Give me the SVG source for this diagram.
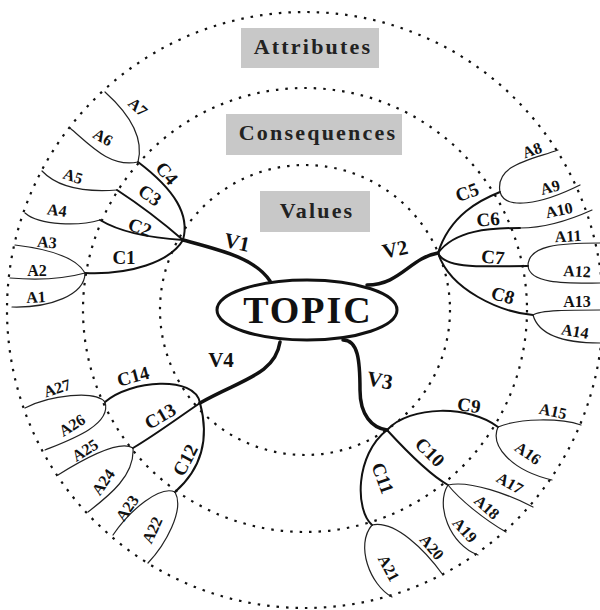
<svg xmlns="http://www.w3.org/2000/svg" width="600" height="610" viewBox="0 0 600 610">
<style>
.ring{fill:none;stroke:#111;stroke-width:2.2;stroke-dasharray:2.5 7}
.box{fill:#c8c8c8}
.hdr{font-family:"Liberation Serif",serif;font-weight:bold;font-size:22px;fill:#222;text-anchor:middle;letter-spacing:2.2px}
.v{fill:none;stroke:#111;stroke-width:3.5;stroke-linecap:round}
.c{fill:none;stroke:#111;stroke-width:2;stroke-linecap:round}
.a{fill:none;stroke:#222;stroke-width:1.2;stroke-linecap:round}
.lv{font-family:"Liberation Serif",serif;font-weight:bold;font-size:21px;fill:#111;text-anchor:middle}
.lc{font-family:"Liberation Serif",serif;font-weight:bold;font-size:19px;fill:#111;text-anchor:middle}
.la{font-family:"Liberation Serif",serif;font-weight:bold;font-size:16px;fill:#111;text-anchor:middle}
</style>
<rect width="600" height="610" fill="#fff"/>
<g id="rings">
<circle class="ring" cx="305" cy="310" r="298"/>
<circle class="ring" cx="305" cy="310" r="222"/>
<circle class="ring" cx="305" cy="310" r="145"/>
</g>
<g id="level-attributes"><rect class="box" x="241" y="28" width="138" height="40"/><text class="hdr" x="313" y="54">Attributes</text></g>
<g id="level-consequences"><rect class="box" x="226" y="114" width="176" height="41"/><text class="hdr" x="318" y="140">Consequences</text></g>
<g id="level-values"><rect class="box" x="260" y="191" width="110" height="41"/><text class="hdr" x="317" y="218">Values</text></g>
<g id="connectors">
<path class="v" d="M270,281 C255,258 220,250 183,240"/>
<path class="v" d="M367,285 C400,285 410,258 438,253"/>
<path class="v" d="M343,340 C358,340 360,360 360,390 C360,415 372,428 387,430"/>
<path class="v" d="M280,342 C275,375 240,380 200,403"/>
<path class="c" d="M183,240 C170,262 130,275 85,273"/>
<path class="c" d="M183,240 C150,238 120,232 100,220"/>
<path class="c" d="M183,240 C160,220 140,205 117,190"/>
<path class="c" d="M183,240 C190,215 175,190 138,162"/>
<path class="a" d="M85,273 C85,295 50,308 12,307"/>
<path class="a" d="M85,273 C60,280 35,280 10,278"/>
<path class="a" d="M85,273 C75,255 40,248 15,245"/>
<path class="a" d="M100,220 C80,226 40,226 25,213"/>
<path class="a" d="M117,190 C90,192 60,190 42,171"/>
<path class="a" d="M138,162 C110,168 90,145 70,128"/>
<path class="a" d="M138,162 C145,135 125,110 105,92"/>
<path class="c" d="M438,253 C450,215 480,200 500,192"/>
<path class="c" d="M438,253 C455,230 490,228 520,228"/>
<path class="c" d="M438,253 C445,270 490,266 528,266"/>
<path class="c" d="M438,253 C450,290 500,312 533,315"/>
<path class="a" d="M500,192 C495,165 530,160 558,150"/>
<path class="a" d="M500,192 C505,210 540,205 580,185"/>
<path class="a" d="M520,228 C545,228 570,220 592,210"/>
<path class="a" d="M528,266 C528,245 560,243 600,243"/>
<path class="a" d="M528,266 C530,285 570,283 600,283"/>
<path class="a" d="M533,315 C540,310 570,310 600,310"/>
<path class="a" d="M533,315 C540,340 575,343 600,343"/>
<path class="c" d="M387,430 C410,405 470,405 498,427"/>
<path class="c" d="M387,430 C410,455 430,475 448,485"/>
<path class="c" d="M387,430 C355,455 355,510 372,525"/>
<path class="a" d="M498,427 C520,418 560,418 581,425"/>
<path class="a" d="M498,427 C490,445 510,470 552,480"/>
<path class="a" d="M448,485 C470,480 510,495 533,507"/>
<path class="a" d="M448,485 C460,500 485,520 506,532"/>
<path class="a" d="M448,485 C435,505 450,545 478,555"/>
<path class="a" d="M372,525 C395,520 425,550 443,575"/>
<path class="a" d="M372,525 C355,545 370,585 392,597"/>
<path class="c" d="M200,403 C195,375 130,380 105,402"/>
<path class="c" d="M200,403 C175,420 155,435 133,448"/>
<path class="c" d="M200,403 C210,440 200,470 175,492"/>
<path class="a" d="M105,402 C95,390 50,395 25,408"/>
<path class="a" d="M105,402 C112,425 70,440 45,450"/>
<path class="a" d="M133,448 C120,440 90,455 58,475"/>
<path class="a" d="M133,448 C135,475 110,495 88,512"/>
<path class="a" d="M175,492 C160,485 130,510 113,535"/>
<path class="a" d="M175,492 C185,510 165,545 148,563"/>
</g>
<g id="topic"><ellipse cx="307" cy="310" rx="90" ry="30" fill="#fff" stroke="#111" stroke-width="3"/><text x="308" y="323" font-family="'Liberation Serif',serif" font-weight="bold" font-size="38" text-anchor="middle" fill="#111" letter-spacing="2">TOPIC</text></g>
<g id="labels-v">
<text class="lv" transform="translate(237,242) rotate(12)" dy="0.35em">V1</text>
<text class="lv" transform="translate(395,249) rotate(-12)" dy="0.35em">V2</text>
<text class="lv" transform="translate(380,380) rotate(10)" dy="0.35em">V3</text>
<text class="lv" transform="translate(221,360)" dy="0.35em">V4</text>
</g>
<g id="labels-c">
<text class="lc" transform="translate(124,257)" dy="0.35em">C1</text>
<text class="lc" transform="translate(140,227) rotate(20)" dy="0.35em">C2</text>
<text class="lc" transform="translate(150,195) rotate(35)" dy="0.35em">C3</text>
<text class="lc" transform="translate(167,173) rotate(50)" dy="0.35em">C4</text>
<text class="lc" transform="translate(467,192) rotate(-20)" dy="0.35em">C5</text>
<text class="lc" transform="translate(488,219) rotate(-5)" dy="0.35em">C6</text>
<text class="lc" transform="translate(493,257) rotate(5)" dy="0.35em">C7</text>
<text class="lc" transform="translate(503,295) rotate(15)" dy="0.35em">C8</text>
<text class="lc" transform="translate(469,405) rotate(8)" dy="0.35em">C9</text>
<text class="lc" transform="translate(430,452) rotate(45)" dy="0.35em">C10</text>
<text class="lc" transform="translate(383,478) rotate(70)" dy="0.35em">C11</text>
<text class="lc" transform="translate(185,460) rotate(-62)" dy="0.35em">C12</text>
<text class="lc" transform="translate(160,416) rotate(-30)" dy="0.35em">C13</text>
<text class="lc" transform="translate(133,376) rotate(-15)" dy="0.35em">C14</text>
</g>
<g id="labels-a">
<text class="la" transform="translate(36,297) rotate(-3)" dy="0.35em">A1</text>
<text class="la" transform="translate(37,270)" dy="0.35em">A2</text>
<text class="la" transform="translate(47,242) rotate(5)" dy="0.35em">A3</text>
<text class="la" transform="translate(57,210) rotate(8)" dy="0.35em">A4</text>
<text class="la" transform="translate(73,176) rotate(18)" dy="0.35em">A5</text>
<text class="la" transform="translate(103,137) rotate(30)" dy="0.35em">A6</text>
<text class="la" transform="translate(138,107) rotate(42)" dy="0.35em">A7</text>
<text class="la" transform="translate(532,150) rotate(-20)" dy="0.35em">A8</text>
<text class="la" transform="translate(550,187) rotate(-15)" dy="0.35em">A9</text>
<text class="la" transform="translate(559,210) rotate(-12)" dy="0.35em">A10</text>
<text class="la" transform="translate(568,236) rotate(-3)" dy="0.35em">A11</text>
<text class="la" transform="translate(577,271) rotate(3)" dy="0.35em">A12</text>
<text class="la" transform="translate(577,301)" dy="0.35em">A13</text>
<text class="la" transform="translate(575,331) rotate(10)" dy="0.35em">A14</text>
<text class="la" transform="translate(553,411) rotate(12)" dy="0.35em">A15</text>
<text class="la" transform="translate(528,453) rotate(35)" dy="0.35em">A16</text>
<text class="la" transform="translate(510,483) rotate(30)" dy="0.35em">A17</text>
<text class="la" transform="translate(487,507) rotate(42)" dy="0.35em">A18</text>
<text class="la" transform="translate(465,530) rotate(48)" dy="0.35em">A19</text>
<text class="la" transform="translate(432,547) rotate(50)" dy="0.35em">A20</text>
<text class="la" transform="translate(389,568) rotate(62)" dy="0.35em">A21</text>
<text class="la" transform="translate(152,530) rotate(-65)" dy="0.35em">A22</text>
<text class="la" transform="translate(127,508) rotate(-55)" dy="0.35em">A23</text>
<text class="la" transform="translate(103,482) rotate(-55)" dy="0.35em">A24</text>
<text class="la" transform="translate(85,450) rotate(-32)" dy="0.35em">A25</text>
<text class="la" transform="translate(72,425) rotate(-32)" dy="0.35em">A26</text>
<text class="la" transform="translate(57,388) rotate(-18)" dy="0.35em">A27</text>
</g>
</svg>
